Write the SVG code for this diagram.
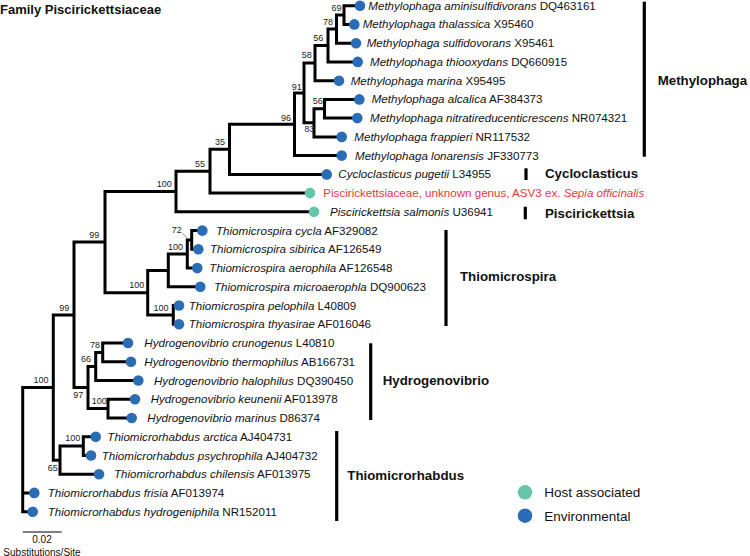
<svg xmlns="http://www.w3.org/2000/svg" width="750" height="556" viewBox="0 0 750 556">
<style>
text{font-family:"Liberation Sans",Arial,sans-serif;}
.lab{font-size:11.6px;fill:#111;}
.it{font-style:italic;}
.red{fill:#e8363f;}
.bs{font-size:9px;fill:#222;text-anchor:middle;}
.clade{font-size:13.3px;font-weight:bold;fill:#111;}
.title{font-size:13px;font-weight:bold;fill:#111;}
.leg{font-size:13.5px;fill:#111;}
.env{fill:#2b6cb6;}
.host{fill:#66c4aa;}
.br{fill:none;stroke:#000;stroke-width:3;stroke-linejoin:miter;}
.bar{stroke:#000;stroke-width:3.2;}
.sc{font-size:10px;fill:#111;text-anchor:middle;}
</style>
<rect width="750" height="556" fill="#fff"/>
<text class="title" x="0" y="13.5">Family Piscirickettsiaceae</text>

<g id="connectors">
<path class="br" d="M53.3 387.6 H22.7 V511.7 H32.7 M22.7 492.9 H34.3"/>
<path class="br" d="M74 315 H53.3 V460.2 H60"/>
<path class="br" d="M105 242.1 H74 V387.5 H88"/>
<path class="br" d="M176 191.5 H105 V292.7 H147.7"/>
<path class="br" d="M210 171.2 H176 V211.8 H314"/>
<path class="br" d="M229.5 149.3 H210 V193.1 H310"/>
<path class="br" d="M294.5 124.3 H229.5 V174.4 H326.7"/>
<path class="br" d="M304 93 H294.5 V155.6 H341.7"/>
<path class="br" d="M315 63.1 H304 V122.8 H314"/>
<path class="br" d="M328 45.5 H315 V80.7 H339"/>
<path class="br" d="M336.5 29.1 H328 V61.9 H357.7"/>
<path class="br" d="M344 15.1 H336.5 V43.2 H356"/>
<path class="br" d="M360 5.7 H344 V24.4 H354.3"/>
<path class="br" d="M324.5 108.8 H314 V136.9 H341.7"/>
<path class="br" d="M359.3 99.4 H324.5 V118.1 H357.3"/>
<path class="br" d="M168.3 270.4 H147.7 V314.9 H173.3"/>
<path class="br" d="M187.3 254 H168.3 V286.8 H200.3"/>
<path class="br" d="M191.7 240 H187.3 V268.1 H197.3"/>
<path class="br" d="M202.3 230.6 H191.7 V249.3 H198.3"/>
<path class="br" d="M179 305.5 H173.3 V324.3 H179"/>
<path class="br" d="M95.7 366.5 H88 V408.6 H108"/>
<path class="br" d="M102.7 352.4 H95.7 V380.5 H138.3"/>
<path class="br" d="M128 343 H102.7 V361.8 H131"/>
<path class="br" d="M135 399.2 H108 V418 H131.7"/>
<path class="br" d="M83.3 446.1 H60 V474.2 H99"/>
<path class="br" d="M95.7 436.7 H83.3 V455.5 H91"/>
<path d="M182.7 233.3 L187.3 238.3" stroke="#666" stroke-width="0.8" fill="none"/>
</g>

<g id="support">
<text class="bs" x="336.5" y="10.5">69</text>
<text class="bs" x="328" y="25">78</text>
<text class="bs" x="318.3" y="41.3">56</text>
<text class="bs" x="306.7" y="58">58</text>
<text class="bs" x="296.7" y="90">91</text>
<text class="bs" x="286" y="121.3">96</text>
<text class="bs" x="317.8" y="104">56</text>
<text class="bs" x="309.5" y="131.5">83</text>
<text class="bs" x="220" y="144.7">35</text>
<text class="bs" x="200" y="167">55</text>
<text class="bs" x="164.3" y="187">100</text>
<text class="bs" x="94.3" y="238">99</text>
<text class="bs" x="176.7" y="233">72</text>
<text class="bs" x="175.5" y="249.7">100</text>
<text class="bs" x="136.7" y="288">100</text>
<text class="bs" x="161" y="310.7">100</text>
<text class="bs" x="64.3" y="310.7">99</text>
<text class="bs" x="95" y="348">78</text>
<text class="bs" x="86" y="362">66</text>
<text class="bs" x="99.3" y="404">100</text>
<text class="bs" x="78.3" y="398">97</text>
<text class="bs" x="72.7" y="441.3">100</text>
<text class="bs" x="52.7" y="470.7">65</text>
<text class="bs" x="41" y="383">100</text>
</g>

<g id="leaf-DQ463161"><circle class="env" cx="360" cy="5.7" r="5.3"/><text class="lab" x="368.3" y="9.7"><tspan class="it">Methylophaga aminisulfidivorans</tspan> DQ463161</text></g>
<g id="leaf-X95460"><circle class="env" cx="354.3" cy="24.4" r="5.3"/><text class="lab" x="362.7" y="28.4"><tspan class="it">Methylophaga thalassica</tspan> X95460</text></g>
<g id="leaf-X95461"><circle class="env" cx="356" cy="43.2" r="5.3"/><text class="lab" x="366.7" y="47.2"><tspan class="it">Methylophaga sulfidovorans</tspan> X95461</text></g>
<g id="leaf-DQ660915"><circle class="env" cx="357.7" cy="61.9" r="5.3"/><text class="lab" x="370" y="65.9"><tspan class="it">Methylophaga thiooxydans</tspan> DQ660915</text></g>
<g id="leaf-X95495"><circle class="env" cx="339" cy="80.7" r="5.3"/><text class="lab" x="350.7" y="84.7"><tspan class="it">Methylophaga marina</tspan> X95495</text></g>
<g id="leaf-AF384373"><circle class="env" cx="359.3" cy="99.4" r="5.3"/><text class="lab" x="371.7" y="103.4"><tspan class="it">Methylophaga alcalica</tspan> AF384373</text></g>
<g id="leaf-NR074321"><circle class="env" cx="357.3" cy="118.1" r="5.3"/><text class="lab" x="370" y="122.1"><tspan class="it">Methylophaga nitratireducenticrescens</tspan> NR074321</text></g>
<g id="leaf-NR117532"><circle class="env" cx="341.7" cy="136.9" r="5.3"/><text class="lab" x="354.3" y="140.9"><tspan class="it">Methylophaga frappieri</tspan> NR117532</text></g>
<g id="leaf-JF330773"><circle class="env" cx="341.7" cy="155.6" r="5.3"/><text class="lab" x="355" y="159.6"><tspan class="it">Methylophaga lonarensis</tspan> JF330773</text></g>
<g id="leaf-L34955"><circle class="env" cx="326.7" cy="174.4" r="5.3"/><text class="lab" x="338.3" y="178.4"><tspan class="it">Cycloclasticus pugetii</tspan> L34955</text></g>
<g id="leaf-ASV3"><circle class="host" cx="310" cy="193.1" r="5.3"/><text class="lab red" x="323.3" y="197.1">Piscirickettsiaceae, unknown genus, ASV3 ex. <tspan class="it">Sepia officinalis</tspan></text></g>
<g id="leaf-U36941"><circle class="host" cx="314" cy="211.8" r="5.3"/><text class="lab" x="330" y="215.8"><tspan class="it">Piscirickettsia salmonis</tspan> U36941</text></g>
<g id="leaf-AF329082"><circle class="env" cx="202.3" cy="230.6" r="5.3"/><text class="lab" x="216" y="234.6"><tspan class="it">Thiomicrospira cycla</tspan> AF329082</text></g>
<g id="leaf-AF126549"><circle class="env" cx="198.3" cy="249.3" r="5.3"/><text class="lab" x="210" y="253.3"><tspan class="it">Thiomicrospira sibirica</tspan> AF126549</text></g>
<g id="leaf-AF126548"><circle class="env" cx="197.3" cy="268.1" r="5.3"/><text class="lab" x="209.3" y="272.1"><tspan class="it">Thiomicrospira aerophila</tspan> AF126548</text></g>
<g id="leaf-DQ900623"><circle class="env" cx="200.3" cy="286.8" r="5.3"/><text class="lab" x="214" y="290.8"><tspan class="it">Thiomicrospira microaerophla</tspan> DQ900623</text></g>
<g id="leaf-L40809"><circle class="env" cx="179" cy="305.5" r="5.3"/><text class="lab" x="188.7" y="309.5"><tspan class="it">Thiomicrospira pelophila</tspan> L40809</text></g>
<g id="leaf-AF016046"><circle class="env" cx="179" cy="324.3" r="5.3"/><text class="lab" x="188.7" y="328.3"><tspan class="it">Thiomicrospira thyasirae</tspan> AF016046</text></g>
<g id="leaf-L40810"><circle class="env" cx="128" cy="343" r="5.3"/><text class="lab" x="144.3" y="347"><tspan class="it">Hydrogenovibrio crunogenus</tspan> L40810</text></g>
<g id="leaf-AB166731"><circle class="env" cx="131" cy="361.8" r="5.3"/><text class="lab" x="144.3" y="365.8"><tspan class="it">Hydrogenovibrio thermophilus</tspan> AB166731</text></g>
<g id="leaf-DQ390450"><circle class="env" cx="138.3" cy="380.5" r="5.3"/><text class="lab" x="154" y="384.5"><tspan class="it">Hydrogenovibrio halophilus</tspan> DQ390450</text></g>
<g id="leaf-AF013978"><circle class="env" cx="135" cy="399.2" r="5.3"/><text class="lab" x="150.7" y="403.2"><tspan class="it">Hydrogenovibrio keunenii</tspan> AF013978</text></g>
<g id="leaf-D86374"><circle class="env" cx="131.7" cy="418" r="5.3"/><text class="lab" x="147.3" y="422"><tspan class="it">Hydrogenovibrio marinus</tspan> D86374</text></g>
<g id="leaf-AJ404731"><circle class="env" cx="95.7" cy="436.7" r="5.3"/><text class="lab" x="107.3" y="440.7"><tspan class="it">Thiomicrorhabdus arctica</tspan> AJ404731</text></g>
<g id="leaf-AJ404732"><circle class="env" cx="91" cy="455.5" r="5.3"/><text class="lab" x="101.7" y="459.5"><tspan class="it">Thiomicrorhabdus psychrophila</tspan> AJ404732</text></g>
<g id="leaf-AF013975"><circle class="env" cx="99" cy="474.2" r="5.3"/><text class="lab" x="114" y="478.2"><tspan class="it">Thiomicrorhabdus chilensis</tspan> AF013975</text></g>
<g id="leaf-AF013974"><circle class="env" cx="34.3" cy="492.9" r="5.3"/><text class="lab" x="47.7" y="496.9"><tspan class="it">Thiomicrorhabdus frisia</tspan> AF013974</text></g>
<g id="leaf-NR152011"><circle class="env" cx="32.7" cy="511.7" r="5.3"/><text class="lab" x="47.7" y="515.7"><tspan class="it">Thiomicrorhabdus hydrogeniphila</tspan> NR152011</text></g>

<g id="clade-Methylophaga"><line class="bar" x1="644.3" y1="1.7" x2="644.3" y2="156.7"/><text class="clade" x="657.7" y="85.4">Methylophaga</text></g>
<g id="clade-Cycloclasticus"><line class="bar" x1="526" y1="168.3" x2="526" y2="180"/><text class="clade" x="545" y="178">Cycloclasticus</text></g>
<g id="clade-Piscirickettsia"><line class="bar" x1="525.3" y1="206.7" x2="525.3" y2="219.3"/><text class="clade" x="545" y="218">Piscirickettsia</text></g>
<g id="clade-Thiomicrospira"><line class="bar" x1="446" y1="230" x2="446" y2="326"/><text class="clade" x="460" y="281.4">Thiomicrospira</text></g>
<g id="clade-Hydrogenovibrio"><line class="bar" x1="370.7" y1="343.3" x2="370.7" y2="420"/><text class="clade" x="382.7" y="385.4">Hydrogenovibrio</text></g>
<g id="clade-Thiomicrorhabdus"><line class="bar" x1="336.7" y1="431" x2="336.7" y2="521"/><text class="clade" x="347.3" y="479.7">Thiomicrorhabdus</text></g>

<g id="legend">
<circle class="host" cx="525" cy="492.3" r="7.2"/><text class="leg" x="544.3" y="497">Host associated</text>
<circle class="env" cx="525" cy="515.7" r="7.2"/><text class="leg" x="544.3" y="520.5">Environmental</text>
</g>

<g id="scale">
<line x1="22.7" y1="532" x2="61.7" y2="532" stroke="#000" stroke-width="1.2"/>
<text class="sc" x="42" y="543">0.02</text>
<text class="sc" x="42" y="555.5">Substitutions/Site</text>
</g>
</svg>
